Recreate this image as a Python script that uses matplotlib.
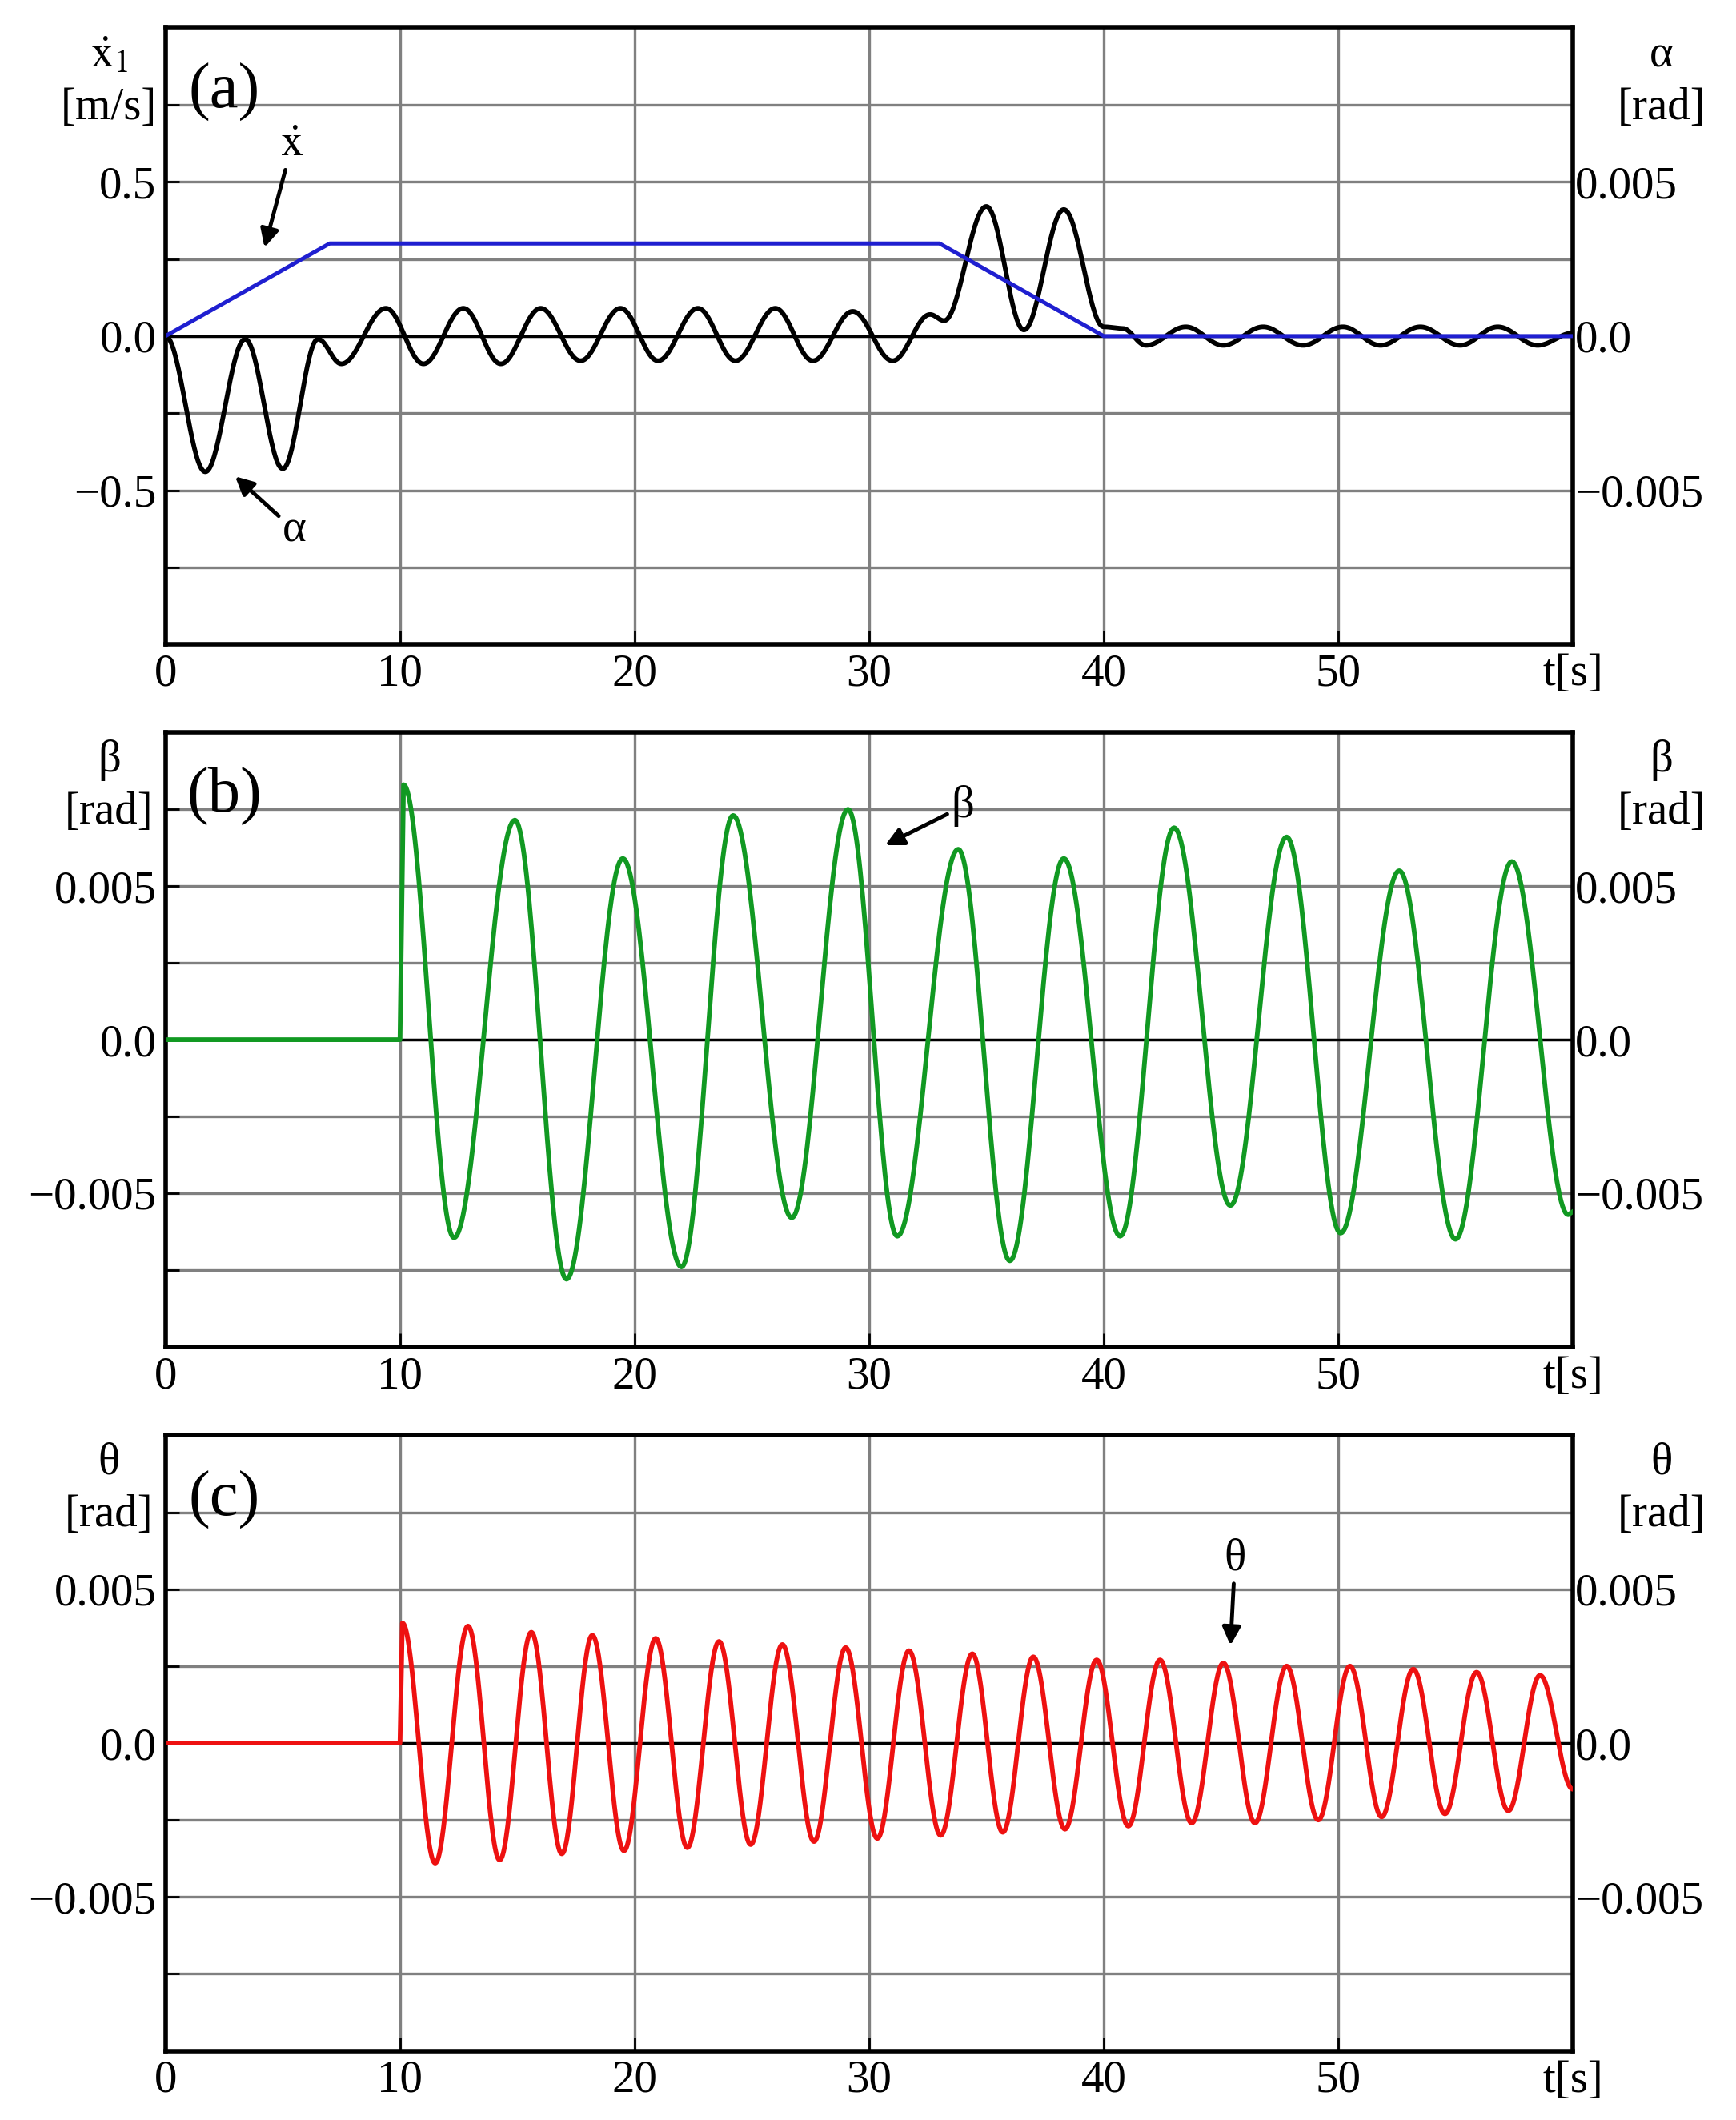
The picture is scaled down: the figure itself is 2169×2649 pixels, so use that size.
import numpy as np
import matplotlib
matplotlib.use("Agg")
import matplotlib.pyplot as plt

plt.rcParams['font.family'] = ['Liberation Serif', 'DejaVu Serif']
plt.rcParams['mathtext.fontset'] = 'stix'

# panel (a): alpha (in left-axis units, alpha*100) extrema, xdot corners
alpha_t = [0, 1.7, 3.4, 5.0, 6.5, 7.5, 9.4, 11.0, 12.7, 14.3, 16.0, 17.7, 19.4, 21.0, 22.7,
           24.3, 26.0, 27.6, 29.3, 31.0, 32.6, 33.2, 35.0, 36.6, 38.3, 40.0, 40.8,
           41.8, 43.5, 45.1, 46.8, 48.5, 50.2, 51.8, 53.5, 55.2, 56.8, 58.5, 60.0]
alpha_v = [0, -0.44, -0.01, -0.43, -0.01, -0.09, 0.09, -0.09, 0.09, -0.09, 0.09, -0.08, 0.09, -0.08, 0.09,
           -0.08, 0.09, -0.08, 0.08, -0.08, 0.07, 0.05, 0.42, 0.02, 0.41, 0.03, 0.025,
           -0.03, 0.03, -0.03, 0.03, -0.03, 0.03, -0.03, 0.03, -0.03, 0.03, -0.03, 0.01]
xdot_t = [0, 7, 33, 40, 60]
xdot_v = [0, 0.3, 0.3, 0, 0]

# panel (b): beta extrema
beta_t = [0, 10.0, 10.15, 12.3, 14.9, 17.1, 19.5, 22.0, 24.2, 26.7, 29.1, 31.2, 33.8, 36.0, 38.3,
          40.7, 43.0, 45.4, 47.8, 50.1, 52.6, 55.0, 57.4, 59.8, 60.0]
beta_v = [0, 0, 0.0083, -0.00645, 0.00715, -0.0078, 0.0059, -0.0074, 0.0073, -0.0058, 0.0075, -0.0064,
          0.0062, -0.0072, 0.0059, -0.0064, 0.0069, -0.0054, 0.0066, -0.0063, 0.0055, -0.0065, 0.0058,
          -0.0057, -0.0056]

# panel (c): theta extrema
theta_pk_t = [10.1, 12.9, 15.6, 18.2, 20.9, 23.6, 26.3, 29.0, 31.7, 34.4, 37.0, 39.7, 42.4, 45.1,
              47.8, 50.5, 53.2, 55.9, 58.6]
theta_pk_v = [0.0039, 0.0038, 0.0036, 0.0035, 0.0034, 0.0033, 0.0032, 0.0031, 0.0030, 0.0029,
              0.0028, 0.0027, 0.0027, 0.0026, 0.0025, 0.0025, 0.0024, 0.0023, 0.0022]
theta_tr_v = [-0.0039, -0.0038, -0.0036, -0.0035, -0.0034, -0.0033, -0.0032, -0.0031, -0.0030,
              -0.0029, -0.0028, -0.0027, -0.0026, -0.0026, -0.0025, -0.0024, -0.0023, -0.0022]

theta_t = [0, 10.0]
theta_v = [0, 0]
for i in range(len(theta_pk_t)):
    theta_t.append(theta_pk_t[i]); theta_v.append(theta_pk_v[i])
    if i < len(theta_tr_v):
        theta_t.append((theta_pk_t[i] + theta_pk_t[i + 1]) / 2); theta_v.append(theta_tr_v[i])
theta_t.append(60.0); theta_v.append(-0.0015)


def smooth(ts, vs, n=40):
    # half-cosine joins between successive extrema
    out_t, out_v = [], []
    for i in range(len(ts) - 1):
        s = np.linspace(0, 1, n, endpoint=False)
        a, b = vs[i], vs[i + 1]
        if ts[i + 1] - ts[i] < 0.3 or a == b:
            w = s
        else:
            w = (1 - np.cos(np.pi * s)) / 2
        out_t.extend(ts[i] + (ts[i + 1] - ts[i]) * s)
        out_v.extend(a + (b - a) * w)
    out_t.append(ts[-1]); out_v.append(vs[-1])
    return np.array(out_t), np.array(out_v)


fig = plt.figure(figsize=(21.69, 26.49), dpi=100)
L, R = 0.0953, 0.906
boxes = [(0.696, 0.987), (0.3647, 0.6545), (0.0326, 0.323)]
FS = 41


def setup(ax, ylim, major, labels):
    ax.set_xlim(0, 60)
    ax.set_ylim(*ylim)
    ax.set_xticks(range(0, 70, 10))
    ax.set_xticklabels(['0', '10', '20', '30', '40', '50', 't[s]'], fontsize=FS)
    step = ylim[1] / 4
    yt = [step * k for k in range(-3, 4)]
    ax.set_yticks(yt)
    ax.set_yticklabels(['' if k % 2 else labels[1 - k // 2] for k in range(-3, 4)], fontsize=FS)
    ax.tick_params(direction='in', length=12, width=2, pad=8)
    ax.grid(True, color='#808080', linewidth=2.4)
    ax.axhline(0, color='black', linewidth=2.4, zorder=2)
    for sp in ax.spines.values():
        sp.set_linewidth(4)
    tw = ax.twinx()
    tw.set_ylim(ylim[0] * major, ylim[1] * major)
    tw.set_yticks([-0.005, 0, 0.005])
    tw.set_yticklabels(['\u22120.005', '0.0', '0.005'], fontsize=FS)
    tw.tick_params(direction='in', length=0, pad=2)
    return tw


def corner_labels(ax, lsym, lunit, rsym, rlet):
    ax.text(-0.04, 0.955, lsym, transform=ax.transAxes, ha='center', va='center', fontsize=FS)
    ax.text(-0.04, 0.87, lunit, transform=ax.transAxes, ha='center', va='center', fontsize=FS)
    ax.text(1.063, 0.955, rsym, transform=ax.transAxes, ha='center', va='center', fontsize=FS)
    ax.text(1.063, 0.87, '[rad]', transform=ax.transAxes, ha='center', va='center', fontsize=FS)
    ax.text(0.042, 0.895, rlet, transform=ax.transAxes, ha='center', va='center', fontsize=58)


arrow = dict(arrowstyle='-|>', color='black', lw=3.5, mutation_scale=34)

# (a)
b0, b1 = boxes[0]
ax = fig.add_axes([L, b0, R - L, b1 - b0])
setup(ax, (-1, 1), 0.01, ['0.5', '0.0', '\u22120.5'])
t, v = smooth(alpha_t, alpha_v)
ax.plot(t, v, color='black', lw=4.2, zorder=3)
ax.plot(xdot_t, xdot_v, color='#1f1fd0', lw=3.6, zorder=4)
ax.annotate(r'$\dot{\mathrm{x}}$', xy=(4.2, 0.28), xytext=(5.4, 0.62), fontsize=FS,
            ha='center', va='center', arrowprops=arrow)
ax.annotate('\u03b1', xy=(2.9, -0.45), xytext=(5.5, -0.63), fontsize=FS,
            ha='center', va='center', arrowprops=arrow)
corner_labels(ax, r'$\dot{\mathrm{x}}_{1}$', '[m/s]', '\u03b1', '(a)')

# (b)
b0, b1 = boxes[1]
ax = fig.add_axes([L, b0, R - L, b1 - b0])
setup(ax, (-0.01, 0.01), 1, ['0.005', '0.0', '\u22120.005'])
t, v = smooth(beta_t, beta_v)
ax.plot(t, v, color='#119922', lw=4.2, zorder=3)
ax.annotate('\u03b2', xy=(30.6, 0.0063), xytext=(34.0, 0.0076), fontsize=FS,
            ha='center', va='center', arrowprops=arrow)
corner_labels(ax, '\u03b2', '[rad]', '\u03b2', '(b)')

# (c)
b0, b1 = boxes[2]
ax = fig.add_axes([L, b0, R - L, b1 - b0])
setup(ax, (-0.01, 0.01), 1, ['0.005', '0.0', '\u22120.005'])
t, v = smooth(theta_t, theta_v)
ax.plot(t, v, color='#ee1111', lw=4.2, zorder=3)
ax.annotate('\u03b8', xy=(45.4, 0.0031), xytext=(45.6, 0.006), fontsize=FS,
            ha='center', va='center', arrowprops=arrow)
corner_labels(ax, '\u03b8', '[rad]', '\u03b8', '(c)')

fig.savefig('out.png', dpi=100)
